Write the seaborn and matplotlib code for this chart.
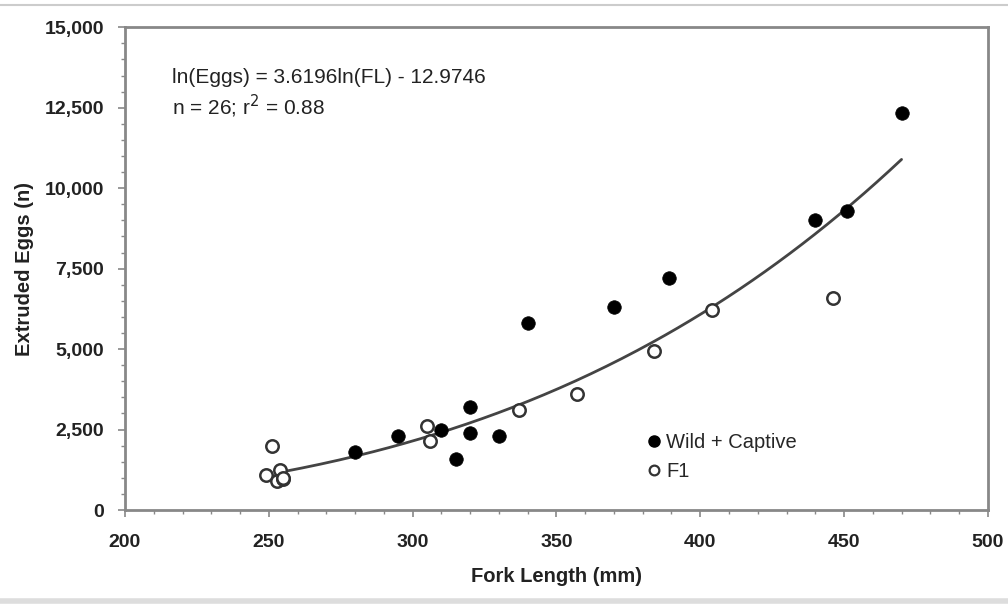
import numpy as np
import pandas as pd
import matplotlib
matplotlib.use("Agg")
import matplotlib.pyplot as plt
import seaborn as sns
from matplotlib.ticker import MultipleLocator, FuncFormatter
from matplotlib.lines import Line2D

wild_fl = [280, 295, 310, 320, 320, 315, 330, 340, 370, 389, 440, 451, 470]
wild_eggs = [1800, 2300, 2500, 3200, 2400, 1600, 2300, 5800, 6300, 7200, 9000, 9300, 12350]
f1_fl = [251, 249, 254, 253, 255, 305, 306, 337, 357, 384, 404, 446, 255]
f1_eggs = [2000, 1100, 1250, 900, 950, 2600, 2150, 3100, 3600, 4950, 6200, 6600, 1000]
coef_a = 3.6196
coef_b = -12.9746
fit_range = [255, 470]

sns.set_theme(style="white")
plt.rcParams['font.family'] = ['Liberation Sans', 'DejaVu Sans']

fig = plt.figure(figsize=(10.08, 6.05), dpi=100)
ax = fig.add_axes([0.124, 0.157, 0.856, 0.798])

df_w = pd.DataFrame({"FL": wild_fl, "Eggs": wild_eggs})
df_f = pd.DataFrame({"FL": f1_fl, "Eggs": f1_eggs})

xs = np.linspace(fit_range[0], fit_range[1], 200)
ys = np.exp(coef_b) * xs ** coef_a
sns.lineplot(x=xs, y=ys, ax=ax, color="#444444", lw=2.0, zorder=2)

sns.scatterplot(data=df_f, x="FL", y="Eggs", ax=ax, s=80, facecolor="white",
                edgecolor="#333333", linewidth=1.8, zorder=3)
sns.scatterplot(data=df_w, x="FL", y="Eggs", ax=ax, s=95, color="black",
                edgecolor="black", linewidth=0.5, zorder=4)

ax.set_xlim(200, 500)
ax.set_ylim(0, 15000)
ax.xaxis.set_major_locator(MultipleLocator(50))
ax.xaxis.set_minor_locator(MultipleLocator(10))
ax.yaxis.set_major_locator(MultipleLocator(2500))
ax.yaxis.set_minor_locator(MultipleLocator(500))
ax.yaxis.set_major_formatter(FuncFormatter(lambda v, p: f"{int(v):,}"))
ax.tick_params(which="both", direction="out", color="#888888", bottom=True, left=True)
ax.tick_params(which="major", length=5, width=1.2, labelsize=14)
ax.tick_params(axis="x", which="major", pad=12)
ax.tick_params(axis="y", which="major", pad=10)
ax.tick_params(which="minor", length=3, width=1.0)
for lab in ax.get_xticklabels() + ax.get_yticklabels():
    lab.set_fontweight("bold")
    lab.set_color("#222222")
for sp in ax.spines.values():
    sp.set_color("#888888")
    sp.set_linewidth(2.0)

ax.set_xlabel("Fork Length (mm)", fontsize=14.5, fontweight="bold", color="#222222", labelpad=12)
ax.set_ylabel("Extruded Eggs (n)", fontsize=14.5, fontweight="bold", color="#222222", labelpad=8)

ax.text(216.5, 13450, "ln(Eggs) = 3.6196ln(FL) - 12.9746", fontsize=15, color="#222222", va="center")
ax.text(216.5, 12550, "n = 26; r$^2$ = 0.88", fontsize=15, color="#222222", va="center")

handles = [
    Line2D([], [], marker="o", ls="", color="black", markersize=8),
    Line2D([], [], marker="o", ls="", markerfacecolor="white", markeredgecolor="#333333",
           markeredgewidth=1.6, markersize=7),
]
ax.legend(handles, ["Wild + Captive", "F1"], loc="lower left", bbox_to_anchor=(0.578, 0.022),
          frameon=False, fontsize=14.5, handletextpad=0.0, labelspacing=0.5, handlelength=1.2)

fig.add_artist(Line2D([0, 1], [0.992, 0.992], color="#cccccc", lw=1.5, transform=fig.transFigure))
fig.add_artist(Line2D([0, 1], [0.006, 0.006], color="#dddddd", lw=4, transform=fig.transFigure))

fig.savefig("out.png", dpi=100)
